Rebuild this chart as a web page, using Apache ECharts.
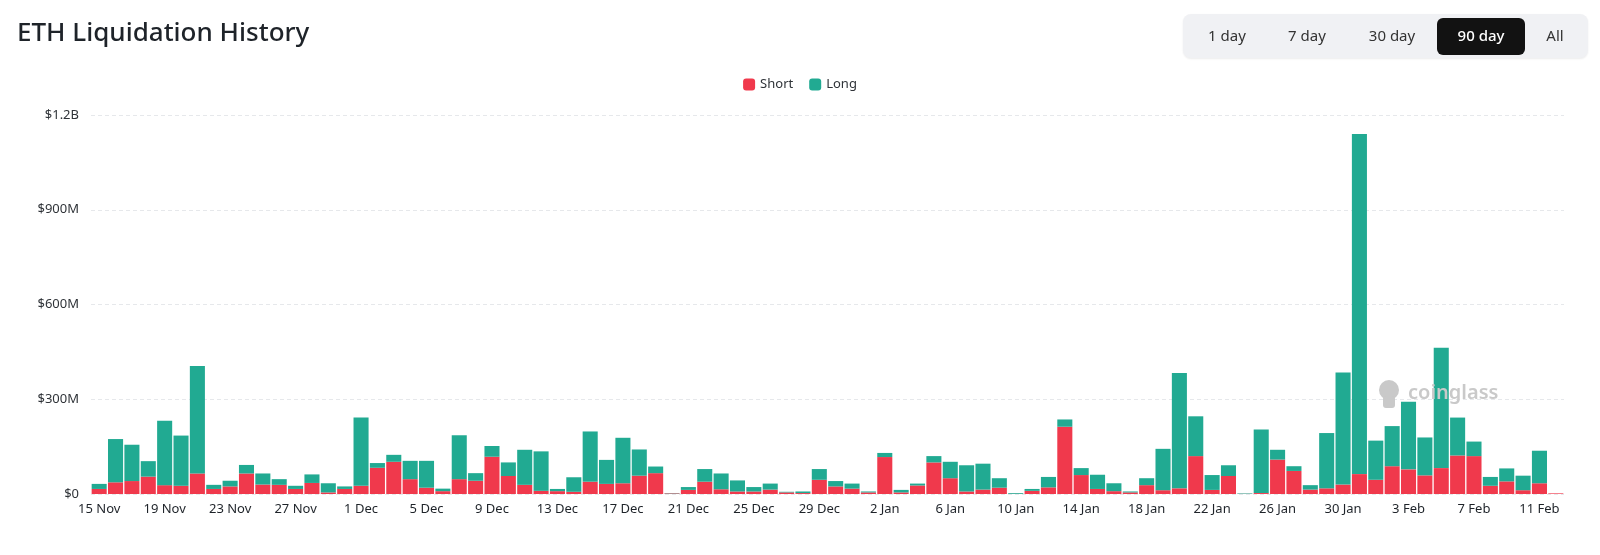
<!DOCTYPE html>
<html>
<head>
<meta charset="utf-8">
<script src="https://cdn.jsdelivr.net/npm/echarts@6/dist/echarts.min.js"></script>
<style>
  html, body { margin: 0; padding: 0; background: #fff; }
  #chart { width: 1600px; height: 555px; }
</style>
</head>
<body>
<div id="chart"></div>
<script>
(function() {
  'use strict';

  // daily liquidations, millions of USD
  var dates = [
    '15 Nov', '16 Nov', '17 Nov', '18 Nov', '19 Nov', '20 Nov', '21 Nov', '22 Nov', '23 Nov', '24 Nov',
    '25 Nov', '26 Nov', '27 Nov', '28 Nov', '29 Nov', '30 Nov', '1 Dec', '2 Dec', '3 Dec', '4 Dec',
    '5 Dec', '6 Dec', '7 Dec', '8 Dec', '9 Dec', '10 Dec', '11 Dec', '12 Dec', '13 Dec', '14 Dec',
    '15 Dec', '16 Dec', '17 Dec', '18 Dec', '19 Dec', '20 Dec', '21 Dec', '22 Dec', '23 Dec', '24 Dec',
    '25 Dec', '26 Dec', '27 Dec', '28 Dec', '29 Dec', '30 Dec', '31 Dec', '1 Jan', '2 Jan', '3 Jan',
    '4 Jan', '5 Jan', '6 Jan', '7 Jan', '8 Jan', '9 Jan', '10 Jan', '11 Jan', '12 Jan', '13 Jan',
    '14 Jan', '15 Jan', '16 Jan', '17 Jan', '18 Jan', '19 Jan', '20 Jan', '21 Jan', '22 Jan', '23 Jan',
    '24 Jan', '25 Jan', '26 Jan', '27 Jan', '28 Jan', '29 Jan', '30 Jan', '31 Jan', '1 Feb', '2 Feb',
    '3 Feb', '4 Feb', '5 Feb', '6 Feb', '7 Feb', '8 Feb', '9 Feb', '10 Feb', '11 Feb', '12 Feb'
  ];

  var shortVals = [
    16, 37, 41, 55, 28, 26, 65, 16, 24, 65,
    30, 29, 16, 35, 5, 16, 26, 83, 102, 47,
    20, 9, 47, 42, 118, 57, 29, 10, 9, 7,
    39, 32, 34, 58, 66, 2, 13, 39, 15, 8,
    8, 14, 5, 3, 45, 24, 17, 5, 117, 5,
    27, 100, 50, 8, 14, 20, 0.5, 10, 21, 213,
    60, 16, 9, 5, 28, 12, 18, 120, 13, 57,
    0.5, 3, 109, 73, 14, 18, 30, 63, 45, 88,
    78, 59, 82, 122, 120, 26, 40, 12, 34, 2
  ];

  var longVals = [
    16, 137, 115, 49, 204, 159, 340, 13, 18, 27,
    35, 18, 10, 27, 29, 8, 216, 15, 22, 58,
    85, 8, 139, 24, 34, 43, 111, 125, 7, 46,
    159, 76, 144, 83, 21, 1, 9, 40, 50, 35,
    14, 19, 2, 5, 34, 17, 16, 3, 13, 8,
    6, 20, 52, 83, 82, 30, 2.5, 6, 33, 23,
    22, 45, 25, 3, 22, 131, 365, 126, 47, 34,
    1.5, 201, 31, 15, 14, 175, 355, 1077, 124, 127,
    214, 120, 381, 120, 46, 28, 41, 46, 103, 0
  ];

  var yTicks = [0, 300, 600, 900, 1200];
  var ranges = ['1 day', '7 day', '30 day', '90 day', 'All'];
  var activeRange = '90 day';

  var red = '#F0394C';
  var teal = '#21AA92';
  var ink = '#1e2329';
  var muted = '#2f3338';
  var wm = '#c9c9c9';

  function fmtMoney(v) {
    if (v === 0) return '$0';
    if (v >= 1000) return '$' + (v / 1000) + 'B';
    return '$' + v + 'M';
  }

  // range buttons drawn as graphic elements
  var btnCenters = [1227, 1307, 1392, 1481, 1555];
  var buttons = [{
    type: 'rect',
    shape: { x: 1183, y: 14, width: 405, height: 44, r: 8 },
    style: { fill: '#f0f1f4', shadowBlur: 2, shadowColor: 'rgba(0,0,0,0.08)', shadowOffsetY: 1 }
  }];
  ranges.forEach(function(r, i) {
    var on = r === activeRange;
    if (on) {
      buttons.push({
        type: 'rect',
        shape: { x: btnCenters[i] - 44, y: 18, width: 88, height: 37, r: 6 },
        style: { fill: '#121212' }
      });
    }
    buttons.push({
      type: 'text',
      x: btnCenters[i], y: 37,
      style: {
        text: r, fill: on ? '#fff' : '#333',
        font: (on ? '500 ' : '400 ') + '15px "Noto Sans", sans-serif',
        textAlign: 'center', textVerticalAlign: 'middle'
      }
    });
  });

  // coinglass watermark, drawn over the bars
  var watermark = [{
    type: 'circle', zlevel: 2, z: 200,
    shape: { cx: 1389, cy: 390, r: 10 },
    style: { fill: wm }
  }, {
    type: 'rect', zlevel: 2, z: 200,
    shape: { x: 1383, y: 396, width: 12, height: 12, r: 3 },
    style: { fill: wm }
  }, {
    type: 'text', zlevel: 2, z: 200,
    x: 1408, y: 393,
    style: {
      text: 'coinglass', fill: wm,
      font: '600 20px "Noto Sans", sans-serif',
      textVerticalAlign: 'middle'
    }
  }];

  var chart = echarts.init(document.getElementById('chart'), null, { renderer: 'canvas' });

  chart.setOption({
    animation: false,
    title: {
      text: 'ETH Liquidation History',
      left: 12, top: 16,
      textStyle: { color: ink, fontSize: 26, fontWeight: 500, fontFamily: '"Noto Sans", sans-serif' }
    },
    legend: {
      data: ['Short', 'Long'],
      top: 73, left: 'center',
      itemWidth: 12, itemHeight: 12, itemGap: 16,
      icon: 'roundRect',
      textStyle: { color: muted, fontSize: 13, fontFamily: '"Noto Sans", sans-serif' }
    },
    grid: { left: 91, right: 36, top: 115, bottom: 61, containLabel: false },
    xAxis: {
      type: 'category',
      data: dates,
      axisTick: { show: false },
      axisLine: { show: false },
      axisLabel: {
        interval: 3, color: ink, fontSize: 13, margin: 9,
        fontFamily: '"Noto Sans", sans-serif'
      }
    },
    yAxis: {
      type: 'value',
      min: 0, max: yTicks[yTicks.length - 1], interval: yTicks[1] - yTicks[0],
      axisLabel: {
        color: muted, fontSize: 13, margin: 12,
        fontFamily: '"Noto Sans", sans-serif',
        formatter: fmtMoney
      },
      splitLine: { lineStyle: { color: '#e6e8eb', type: [4, 3] } }
    },
    series: [{
      name: 'Short',
      type: 'bar',
      stack: 'liq',
      data: shortVals,
      barCategoryGap: '8%',
      itemStyle: { color: red }
    }, {
      name: 'Long',
      type: 'bar',
      stack: 'liq',
      data: longVals,
      barCategoryGap: '8%',
      itemStyle: { color: teal }
    }],
    graphic: buttons.concat(watermark)
  });

  window.addEventListener('resize', function() {
    chart && chart.resize();
  });
})();
</script>
</body>
</html>
